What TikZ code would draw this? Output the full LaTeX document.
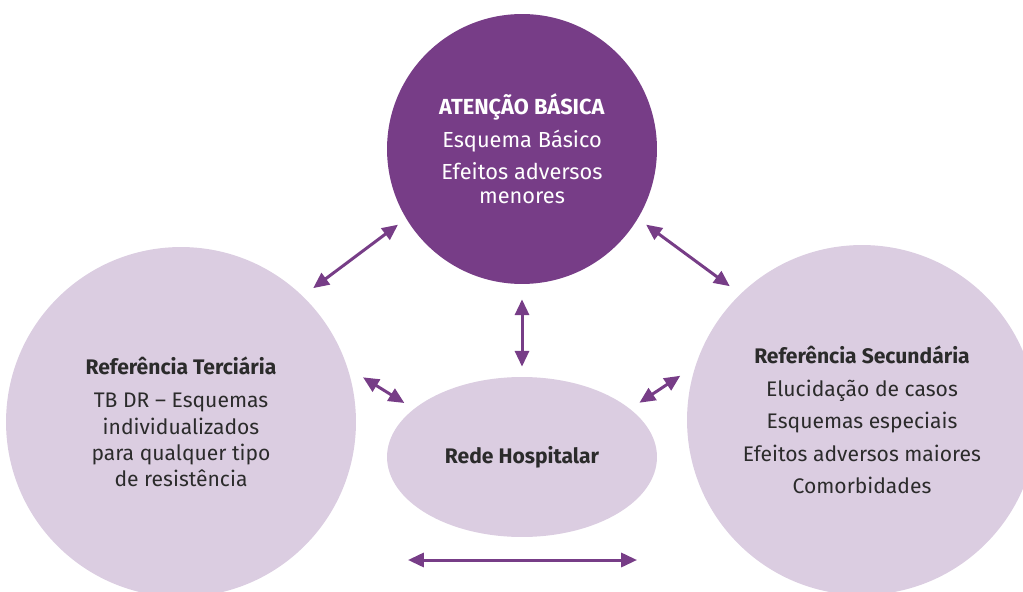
\documentclass[tikz,border=0pt]{standalone}
\usepackage{fontspec}
\setmainfont{Fira Sans}
\usetikzlibrary{arrows.meta,shapes.geometric}
\definecolor{roxo}{HTML}{773D87}
\definecolor{lilas}{HTML}{DBCDE1}
\definecolor{tinta}{HTML}{2B2B2B}

\begin{document}
\begin{tikzpicture}[x=0.02cm, y=-0.02cm,
        bolha/.style={circle, fill=lilas, text=tinta, align=center, inner sep=0pt, font=\fontsize{12}{15}\selectfont},
        seta/.style={roxo, line width=1.7pt, {Triangle[length=9pt,width=8pt]}-{Triangle[length=9pt,width=8pt]}}]
        % Frame
        \useasboundingbox (0,0) rectangle (1023,591);
        \clip (0,0) rectangle (1023,591);

        % Levels of care
        \node[bolha, fill=roxo, text=white, minimum size=5.4cm, font=\fontsize{12.4}{14}\selectfont] (atencao) at (522,149)
            {\textbf{ATENÇÃO BÁSICA}\\[4.5pt] Esquema Básico\\[4pt] Efeitos adversos\\ menores};
        \node[bolha, minimum size=7cm] (terciaria) at (181,422)
            {\textbf{Referência Terciária}\\[4pt] TB DR – Esquemas\\ individualizados\\ para qualquer tipo\\ de resistência};
        \node[bolha, minimum size=7cm] (secundaria) at (862,420)
            {\textbf{Referência Secundária}\\[3.5pt] Elucidação de casos\\[3.5pt] Esquemas especiais\\[3.5pt] Efeitos adversos maiores\\[3.5pt] Comorbidades};
        \node[bolha, ellipse, minimum width=5.4cm, minimum height=3.2cm] (hospital) at (522,457)
            {\textbf{Rede Hospitalar}};

        % Arrows
        \draw[seta, shorten <=0.2cm, shorten >=0.26cm] (atencao.211) -- (terciaria.46);
        \draw[seta, shorten <=0.2cm, shorten >=0.26cm] (atencao.329) -- (secundaria.134);
        \draw[seta, shorten <=0.3cm, shorten >=0.2cm] (atencao.south) -- (hospital.north);
        \draw[seta, shorten <=0.36cm, shorten >=0.22cm] (terciaria.18) -- (hospital.156);
        \draw[seta, shorten <=0.36cm, shorten >=0.22cm] (secundaria.162) -- (hospital.24);

        \coordinate (baseE) at (408,560);
        \coordinate (baseD) at (637,560);
        \draw[seta] (baseE) -- (baseD);
\end{tikzpicture}
\end{document}
